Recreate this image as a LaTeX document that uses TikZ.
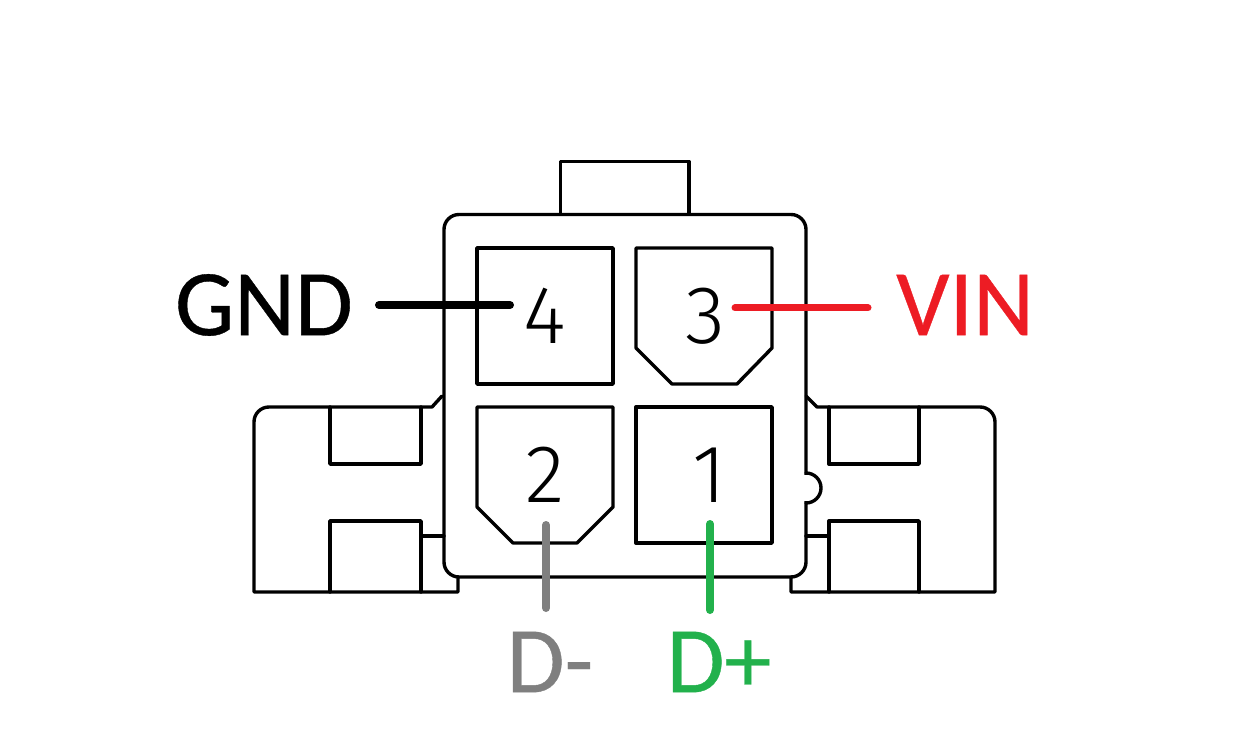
\documentclass[tikz,border=0pt]{standalone}
\usepackage{fontspec}
\setmainfont[FakeBold=0.4]{Carlito}
\newfontfamily\pinfont[UprightFont=* Light]{Fira Sans}
\definecolor{pinRed}{HTML}{ED1C24}
\definecolor{pinGreen}{HTML}{22B14C}
\definecolor{pinGray}{HTML}{7F7F7F}
\tikzset{
  outline/.style={black, line width=3.4pt, line join=round, line cap=round},
  wire/.style={line width=8pt, line cap=round},
  pinlabel/.style={font=\fontsize{94}{94}\selectfont, inner sep=0pt},
  pinnum/.style={font=\fontsize{82}{82}\selectfont\pinfont, inner sep=0pt},
}
\begin{document}
\begin{tikzpicture}[x=1pt, y=-1pt]
  \useasboundingbox (0,0) rectangle (1245,751);
  % Top tab
  \draw[outline] (560.5,214) -- (560.5,161.5) -- (689,161.5) -- (689,214);

  % Body
  \draw[outline, rounded corners=15pt] (444,214.5) rectangle (806,577);

  % ---- Cavities ----
  \draw[outline] (477,248) rectangle (613,384);
  \draw[outline] (636,248) -- (772,248) -- (772,348) -- (737,384)
    -- (672,384) -- (636,348) -- cycle;
  \draw[outline] (477,407) -- (613,407) -- (613,507) -- (577,543)
    -- (513,543) -- (477,507) -- cycle;
  \draw[outline] (636,407) rectangle (772,543);

  % ---- Left latch ----
  \draw[outline] (442,396) -- (432,407) -- (269,407)
    arc[start angle=270, end angle=180, radius=15] -- (254,592) -- (458,592) -- (458,577);
  \draw[outline] (330,407) -- (330,464) -- (421,464) -- (421,407);
  \draw[outline] (330,592) -- (330,521) -- (421,521) -- (421,592);
  \draw[outline] (421,536) -- (444,536);

  % ---- Right latch ----
  \draw[outline] (806,396) -- (817,407) -- (980,407)
    arc[start angle=270, end angle=360, radius=15] -- (995,592) -- (791,592) -- (791,577);
  \draw[outline] (829,407) -- (829,464) -- (919,464) -- (919,407);
  \draw[outline] (829,592) -- (829,521) -- (919,521) -- (919,592);
  \draw[outline] (806,536) -- (829,536);
  % Bump on body side
  \fill[white] (804,475) rectangle (808,501);
  \draw[outline] (806,473) arc[start angle=-90, end angle=90, radius=15];

  % Pin numbers
  \node[pinnum] (pinfour) at (545,316) {4};
  \node[pinnum] (pinthree) at (705,316) {3};
  \node[pinnum] (pintwo) at (545,475) {2};
  \node[pinnum] (pinone) at (709,475) {1};

  % Signal names
  \node[pinlabel, anchor=east] (gnd) at (353,305) {GND};
  \node[pinlabel, anchor=west, pinRed] (vin) at (896,305) {VIN};
  \node[pinlabel, pinGray] (dminus) at (550,662) {D-};
  \node[pinlabel, pinGreen] (dplus) at (719,662) {D+};

  % Wires
  \coordinate (gndend) at (510,305);
  \coordinate (vinend) at (735,308);
  \coordinate (dmend) at (546,525);
  \coordinate (dpend) at (710,524);
  \draw[wire, black, shorten <=26pt] (gnd.east) -- (gndend);
  \draw[wire, pinRed, line width=7pt, shorten <=28pt] (vin.west |- vinend) -- (vinend);
  \draw[wire, pinGray, shorten <=54pt] (dminus.center -| dmend) -- (dmend);
  \draw[wire, pinGreen, shorten <=52pt] (dplus.center -| dpend) -- (dpend);
\end{tikzpicture}
\end{document}
